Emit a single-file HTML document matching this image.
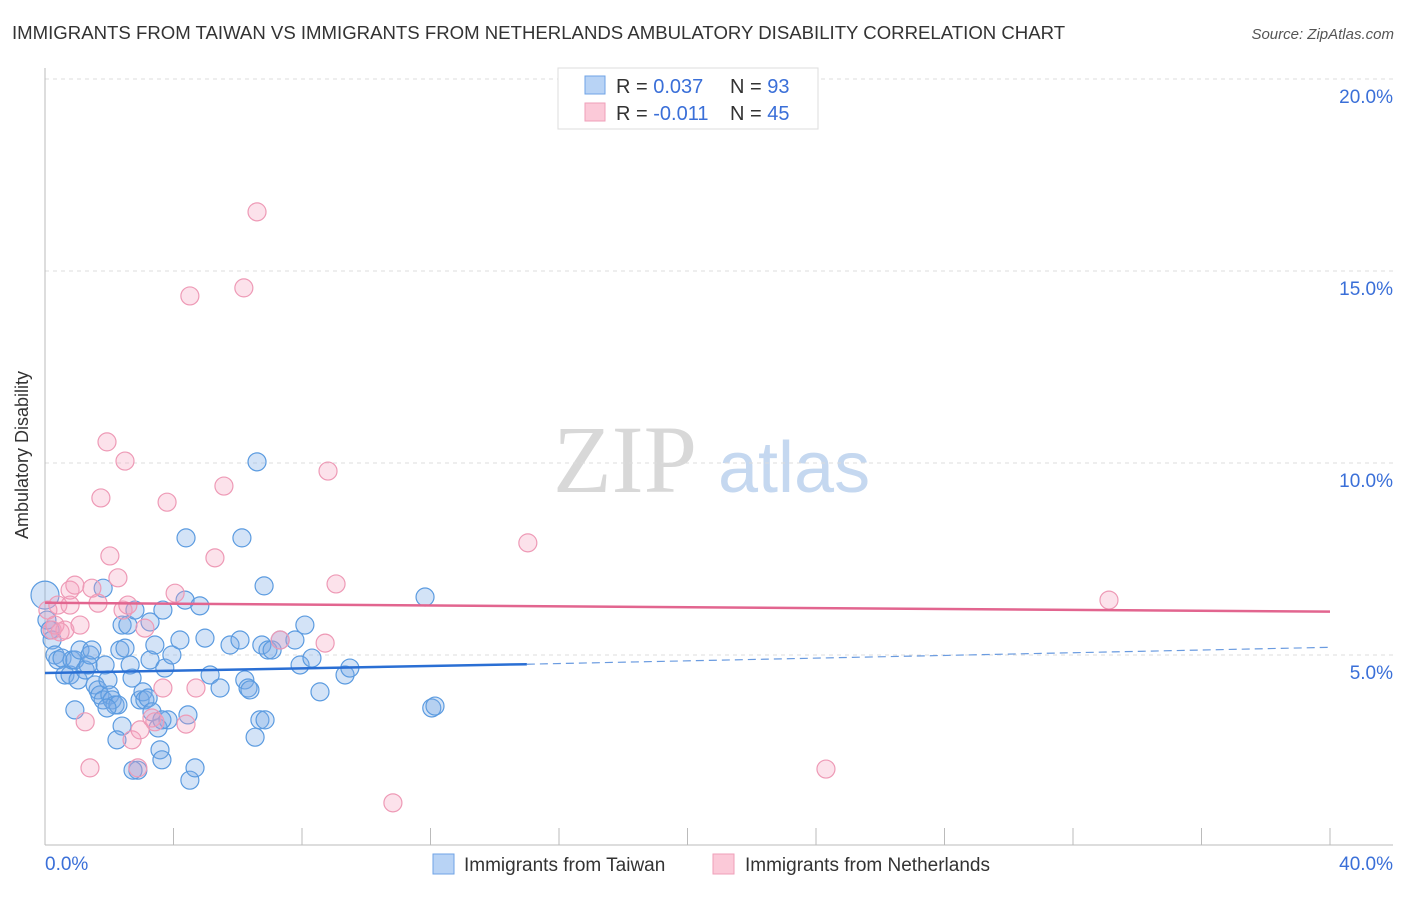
<!DOCTYPE html>
<html><head><meta charset="utf-8"><style>
body{margin:0;background:#fff;font-family:"Liberation Sans",sans-serif}
svg text{font-family:"Liberation Sans",sans-serif}
</style></head><body>
<svg id="chart" width="1406" height="892" viewBox="0 0 1406 892" xmlns="http://www.w3.org/2000/svg">
<text x="12" y="39" font-size="18.6" fill="#333">IMMIGRANTS FROM TAIWAN VS IMMIGRANTS FROM NETHERLANDS AMBULATORY DISABILITY CORRELATION CHART</text>
<text x="1394" y="39" font-size="15" fill="#555" font-style="italic" text-anchor="end">Source: ZipAtlas.com</text>
<g>
<text x="553" y="492" font-size="96" fill="#d8d8d8" style="font-family:'Liberation Serif',serif">ZIP</text>
<text x="718" y="492" font-size="72" fill="#c5d8f0">atlas</text>
</g>
<g id="grid"></g>
<g id="axes"></g>
<g id="blue"></g>
<g id="pink"></g>
<g id="trends"></g>
<g>
<rect x="558" y="68" width="260" height="61" fill="#fff" stroke="#ddd"/>
<rect x="585" y="76" width="20" height="18" fill="#b8d3f5" stroke="#6fa3e6"/>
<rect x="585" y="103" width="20" height="18" fill="#fbc9d8" stroke="#ef9fb9"/>
<text x="616" y="93" font-size="20" fill="#333">R = <tspan fill="#3a6fd8">0.037</tspan></text>
<text x="730" y="93" font-size="20" fill="#333">N = <tspan fill="#3a6fd8">93</tspan></text>
<text x="616" y="120" font-size="20" fill="#333">R = <tspan fill="#3a6fd8">-0.011</tspan></text>
<text x="730" y="120" font-size="20" fill="#333">N = <tspan fill="#3a6fd8">45</tspan></text>
</g>
<g>
<rect x="433" y="854" width="21" height="20" fill="#b8d3f5" stroke="#6fa3e6"/>
<text x="464" y="871" font-size="19" fill="#333">Immigrants from Taiwan</text>
<rect x="713" y="854" width="21" height="20" fill="#fbc9d8" stroke="#ef9fb9"/>
<text x="745" y="871" font-size="19" fill="#333">Immigrants from Netherlands</text>
</g>
<text x="28" y="455" font-size="18" fill="#333" text-anchor="middle" transform="rotate(-90 28 455)">Ambulatory Disability</text>
</svg>
<script>
const yTicks=[5,10,15,20];
const yTickLabels=["5.0%","10.0%","15.0%","20.0%"];
const xTickLabels=["0.0%","40.0%"];
const blueX=[0,0.06,0.16,0.22,0.31,0.40,0.53,0.62,0.78,0.84,0.93,1.03,1.09,1.25,1.34,1.40,1.46,1.56,1.65,1.71,1.81,1.87,1.81,1.96,2.02,2.09,2.18,2.27,2.33,2.40,2.49,2.58,2.65,2.71,2.80,2.89,2.96,3.05,3.11,3.21,3.27,3.33,3.42,3.52,3.58,3.64,3.73,3.83,3.95,4.20,4.36,4.45,4.51,4.67,4.82,4.98,5.14,5.45,5.76,6.07,6.22,6.32,6.38,6.54,6.60,6.69,6.85,6.75,6.94,7.07,7.32,7.78,7.94,8.09,8.31,8.56,9.34,9.49,11.83,12.04,12.14,6.13,4.39,6.82,3.67,3.27,2.40,2.24,2.74,0.93,1.93,3.64];
const blueY=[6.56,5.91,5.65,5.39,5.0,4.87,4.92,4.48,4.48,4.87,4.87,4.35,5.13,4.61,4.74,5.0,5.13,4.22,4.09,3.96,3.83,4.74,6.74,4.35,3.96,3.83,3.70,3.70,5.13,5.78,5.18,5.78,4.74,4.40,6.17,2.0,3.83,4.04,3.83,3.88,4.87,3.52,5.26,3.10,2.53,2.27,4.66,3.31,5.0,5.39,6.43,3.44,1.74,2.06,6.28,5.44,4.48,4.14,5.26,5.39,4.35,4.14,4.09,2.86,10.03,3.31,3.31,5.26,5.13,5.13,5.39,5.39,4.74,5.78,4.92,4.04,4.48,4.66,6.51,3.62,3.67,8.05,8.05,6.80,6.17,5.86,3.15,2.79,2.0,3.57,3.62,3.31];
const pinkX=[0.09,0.22,0.31,0.40,0.62,0.78,0.93,1.09,1.25,1.40,1.46,1.65,1.74,1.93,2.02,2.27,2.43,2.49,2.58,2.71,2.96,3.11,3.33,3.42,3.67,3.80,4.05,4.39,4.51,4.70,5.29,5.57,6.60,6.19,7.32,8.72,8.81,9.06,10.83,15.03,24.31,33.12,2.89,0.47,0.78];
const pinkY=[6.17,5.65,5.78,6.30,5.65,6.69,6.82,5.78,3.26,2.06,6.74,6.35,9.09,10.55,7.58,7.01,6.17,10.05,6.30,2.79,3.05,5.70,3.36,3.26,4.14,8.98,6.61,3.20,14.35,4.14,7.53,9.40,16.54,14.56,5.39,5.31,9.79,6.85,1.15,7.92,2.03,6.43,2.06,5.60,6.30];
const blueTrend=[[0,4.53],[15,4.76],[40,5.2]];
const pinkTrend=[[0,6.36],[40,6.13]];
const NS="http://www.w3.org/2000/svg";
const X=v=>45+v/40*1285, Y=v=>847-v*38.4;
function mk(t,a,p){const e=document.createElementNS(NS,t);for(const k in a)e.setAttribute(k,a[k]);p.appendChild(e);return e;}
const grid=document.getElementById('grid'),axes=document.getElementById('axes');
yTicks.forEach((t,i)=>{
 const l=mk('line',{x1:45,x2:1393,y1:Y(t),y2:Y(t),stroke:'#ddd','stroke-dasharray':'4,4'},grid);
 
 
 const tx=mk('text',{x:1393,y:Y(t)+24,'font-size':19,fill:'#3a6fd8','text-anchor':'end'},axes);
 tx.textContent=yTickLabels[i];
 
 
});
const topGrid=mk('line',{x1:45,x2:1393,y1:79,y2:79,stroke:'#ddd','stroke-dasharray':'4,4'},grid);


mk('line',{x1:45,x2:45,y1:68,y2:845,stroke:'#bbb'},axes);
mk('line',{x1:45,x2:1393,y1:845,y2:845,stroke:'#bbb'},axes);
for(let i=0;i<=10;i++){const t=mk('line',{x1:X(i*4),x2:X(i*4),y1:828,y2:845,stroke:'#bbb'},axes);
 
 }
[[0,'start',45],[1,'end',1393]].forEach(([i,a,x])=>{const t=mk('text',{x:x,y:870,'font-size':19,fill:'#3a6fd8','text-anchor':a},axes);t.textContent=xTickLabels[i];
 
 });
const bg=document.getElementById('blue'),pg=document.getElementById('pink');
blueX.forEach((v,i)=>{const c=mk('circle',{cx:X(v),cy:Y(blueY[i]),r:i==0?14:9,fill:'rgba(120,170,230,0.33)',stroke:'#5b9be0','stroke-width':1.2},bg);
 
 });
pinkX.forEach((v,i)=>{const c=mk('circle',{cx:X(v),cy:Y(pinkY[i]),r:9,fill:'rgba(245,160,190,0.3)',stroke:'#ee9ab6','stroke-width':1.2},pg);
 
 });
const tg=document.getElementById('trends');
const b1=mk('line',{x1:X(blueTrend[0][0]),y1:Y(blueTrend[0][1]),x2:X(blueTrend[1][0]),y2:Y(blueTrend[1][1]),stroke:'#2a6fd4','stroke-width':2.5},tg);


const b2=mk('line',{x1:X(blueTrend[1][0]),y1:Y(blueTrend[1][1]),x2:X(blueTrend[2][0]),y2:Y(blueTrend[2][1]),stroke:'#6a9be0','stroke-width':1.2,'stroke-dasharray':'8,5'},tg);


const p1=mk('line',{x1:X(pinkTrend[0][0]),y1:Y(pinkTrend[0][1]),x2:X(pinkTrend[1][0]),y2:Y(pinkTrend[1][1]),stroke:'#e2658f','stroke-width':2.5},tg);


</script>
</body></html>
